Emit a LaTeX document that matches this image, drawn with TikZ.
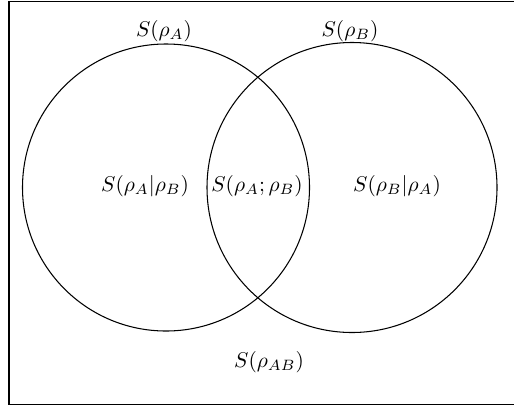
\documentclass[tikz,border=0pt]{standalone}
\begin{document}
\begin{tikzpicture}[x=0.4255pt,y=-0.4255pt,
  setcircle/.style={draw, line width=0.45pt},
  frame/.style={draw, line width=0.6pt},
  lbl/.style={inner sep=0pt, scale=0.91, transform shape}]
\useasboundingbox (0,0) rectangle (514,406);
\draw[frame] (530,1.5) -- (9,1.5) -- (9,404.5) -- (530,404.5);
\node[setcircle, circle, minimum size=287*0.4255pt, inner sep=0pt] (ca) at (166,187.5) {};
\node[setcircle, circle, minimum size=290*0.4255pt, inner sep=0pt] (cb) at (352,187.5) {};
\node[lbl] (sa) at (164,31) {$S(\rho_A)$};
\node[lbl] (sb) at (350,31) {$S(\rho_B)$};
\node[lbl] (sab) at (145,186) {$S(\rho_A|\rho_B)$};
\node[lbl] (smi) at (257,186) {$S(\rho_A;\rho_B)$};
\node[lbl] (sba) at (397,186) {$S(\rho_B|\rho_A)$};
\node[lbl] (sj) at (269,362) {$S(\rho_{AB})$};
\end{tikzpicture}
\end{document}
